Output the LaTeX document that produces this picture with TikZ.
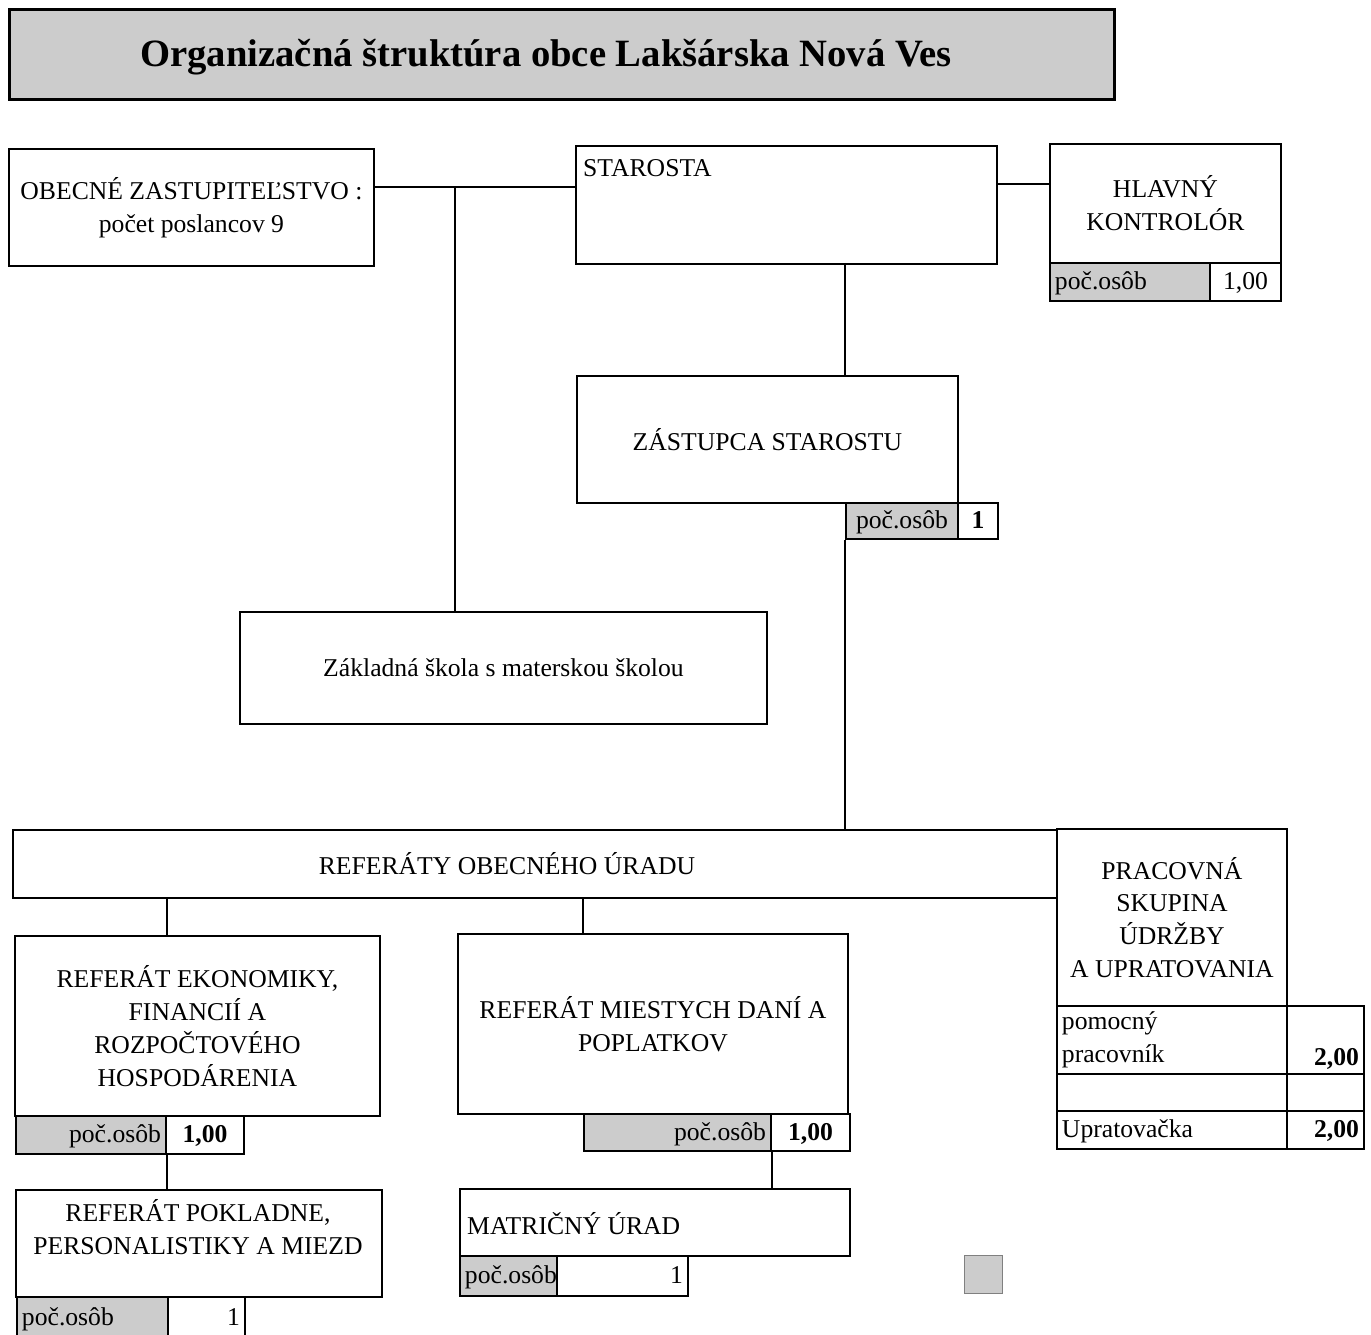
\documentclass[tikz,border=0pt]{standalone}
\usepackage{fontspec}
\setmainfont{Liberation Serif}
\definecolor{scangray}{gray}{0.8}
\newcommand{\bodysize}{\fontsize{14.6}{18.7}\selectfont}

\begin{document}
\begin{tikzpicture}
[x=0.02cm,y=-0.02cm,
  boxdecorate/.style 2 args={draw,line width=1.1pt,inner sep=0pt,anchor=north west,%
    minimum width=#1*0.02cm,minimum height=#2*0.02cm,align=center,font=\bodysize},%
  celldecorate/.style 2 args={draw,line width=1.1pt,inner xsep=0.1cm,inner ysep=0pt,anchor=north west,%
    minimum width=#1*0.02cm,minimum height=#2*0.02cm,text width=#1*0.02cm-0.2cm,%
    text height=11pt,text depth=2pt,font=\bodysize},%
  graycell/.style={fill=scangray},%
  linedecorate/.style={-,line width=0.9pt}]
\useasboundingbox (0,0) rectangle (1371,1334);
%%% title
\node (title) [boxdecorate={1105}{90},fill=scangray,line width=1.8pt] at (8,8) {};
\node (titletext) at (546,57) [font=\fontsize{22}{26}\selectfont\bfseries] {Organizačná štruktúra obce Lakšárska Nová Ves};
%
%%% top level
% nodes
\node (zastup) [boxdecorate={365}{117}] at (8,148) {OBECNÉ ZASTUPITEĽSTVO :\\počet poslancov 9};
\node (starosta) [boxdecorate={421}{118}] at (575,145) {};
\node (starostatext) [anchor=west,font=\bodysize] at (577,168) {STAROSTA};
\node (kontrolor) [boxdecorate={231}{119}] at (1049,143) {HLAVNÝ\\KONTROLÓR};
\node (kontrolorpoc) [celldecorate={160}{38},graycell,align=left] at (1049,262) {poč.osôb};
\node (kontrolorval) [celldecorate={71}{38},align=center] at (1209,262) {1,00};
\node (zastupca) [boxdecorate={381}{127}] at (576,375) {ZÁSTUPCA STAROSTU};
\node (zastupcapoc) [celldecorate={112}{36},graycell,align=center] at (845,502) {poč.osôb};
\node (zastupcaval) [celldecorate={40}{36},align=center,font=\bodysize\bfseries] at (957,502) {1};
\node (skola) [boxdecorate={527}{112}] at (239,611) {Základná škola s materskou školou};
%
%%% office
% nodes
\node (referaty) [boxdecorate={1044}{68}] at (12,829) {};
\node (referatytext) [font=\bodysize] at (507,864) {REFERÁTY OBECNÉHO ÚRADU};
\node (udrzba) [boxdecorate={230}{177}] at (1056,828) {PRACOVNÁ\\SKUPINA\\ÚDRŽBY\\A UPRATOVANIA};
\node (pomocny) [celldecorate={230}{68},text height={},text depth={},align=left] at (1056,1005) {pomocný\\pracovník};
\node (pomocnyval) [celldecorate={77}{68},text height={},text depth={},align=right,font=\bodysize\bfseries] at (1286,1005) {\strut\\2,00};
\node (prazdny) [celldecorate={230}{37}] at (1056,1073) {};
\node (prazdnyval) [celldecorate={77}{37}] at (1286,1073) {};
\node (upratovacka) [celldecorate={230}{38},align=left] at (1056,1110) {Upratovačka};
\node (upratovackaval) [celldecorate={77}{38},align=right,font=\bodysize\bfseries] at (1286,1110) {2,00};
%
\node (ekonomika) [boxdecorate={365}{180}] at (14,935) {REFERÁT EKONOMIKY,\\FINANCIÍ A\\ROZPOČTOVÉHO\\HOSPODÁRENIA};
\node (ekonomikapoc) [celldecorate={150}{38},graycell,align=right] at (15,1115) {poč.osôb};
\node (ekonomikaval) [celldecorate={78}{38},align=center,font=\bodysize\bfseries] at (165,1115) {1,00};
\node (dane) [boxdecorate={390}{180}] at (457,933) {REFERÁT MIESTYCH DANÍ A\\POPLATKOV};
\node (danepoc) [celldecorate={187}{37},graycell,align=right] at (583,1113) {poč.osôb};
\node (daneval) [celldecorate={79}{37},align=center,font=\bodysize\bfseries] at (770,1113) {1,00};
%
\node (pokladna) [boxdecorate={366}{107}] at (15,1189) {};
\node (pokladnatext) [font=\bodysize,align=center] at (198,1227) {REFERÁT POKLADNE,\\PERSONALISTIKY A MIEZD};
\node (pokladnapoc) [celldecorate={151}{42},graycell,align=left] at (16,1296) {poč.osôb};
\node (pokladnaval) [celldecorate={77}{42},align=right] at (167,1296) {1};
\node (matrika) [boxdecorate={390}{67}] at (459,1188) {};
\node (matrikatext) [anchor=west,font=\bodysize] at (461,1224) {MATRIČNÝ ÚRAD};
\node (matrikapoc) [celldecorate={97}{40},graycell,align=center] at (459,1255) {poč.osôb};
\node (matrikaval) [celldecorate={131}{40},align=right] at (556,1255) {1};
\node (patch) [draw=gray,fill=scangray,minimum size=0.76cm,inner sep=0pt,anchor=north west] at (964,1255) {};
%
% edges or lines
\coordinate (fork) at (455,187);
\coordinate (hook) at (1020,184);
\coordinate (spine) at (845,263);
\path
(zastup.east |- fork) edge[linedecorate] (starosta.west |- fork)
(fork) edge[linedecorate] (fork |- skola.north)
(starosta.east |- hook) edge[linedecorate] (kontrolor.west |- hook)
(spine) edge[linedecorate] (spine |- zastupca.north)
(zastupcapoc.south west) edge[linedecorate] (zastupcapoc.south west |- referaty.north)
(ekonomikapoc.north east |- referaty.south) edge[linedecorate] (ekonomikapoc.north east |- ekonomika.north)
(danepoc.west |- referaty.south) edge[linedecorate] (danepoc.west |- dane.north)
(ekonomikapoc.south east) edge[linedecorate] (ekonomikapoc.south east |- pokladna.north)
(danepoc.south east) edge[linedecorate] (danepoc.south east |- matrika.north);
\end{tikzpicture}
\end{document}
